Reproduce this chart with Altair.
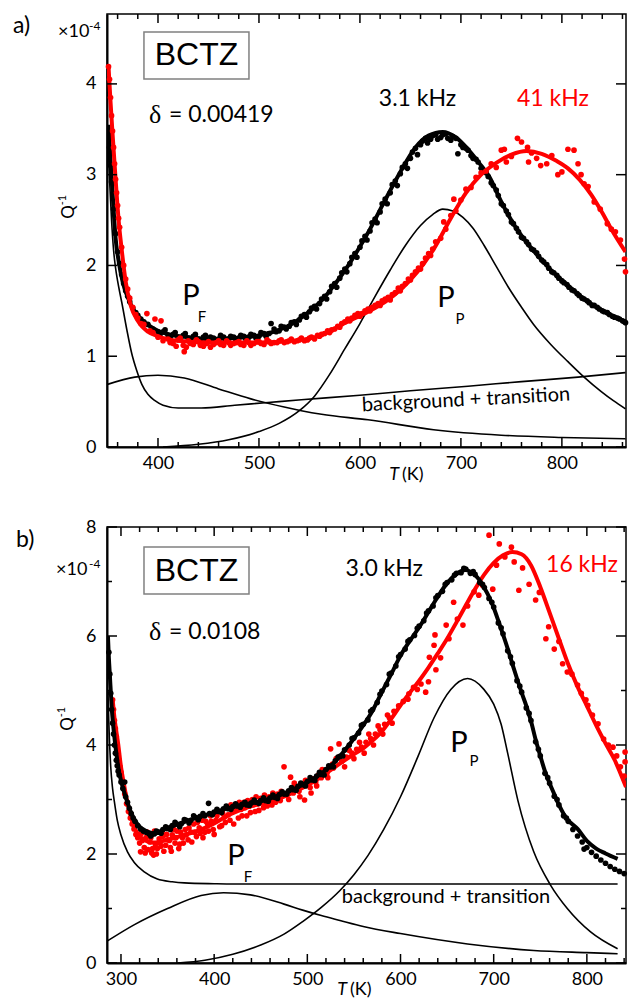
import altair as alt
import pandas as pd

FONT = "Lato"
W = 519
HA = 433
HB = 436

# ---------------- panel a) ----------------
A_XDOM = [349.5, 863.5]
A_YDOM = [0, 4.77]
A_XMAJ = [400, 500, 600, 700, 800]
A_XMIN = [360, 380, 420, 440, 460, 480, 520, 540, 560, 580, 620, 640, 660, 680,
          720, 740, 760, 780, 820, 840, 860]
A_YMAJ = [0, 1, 2, 3, 4]

A_BLACK_PTS = [(352, 3.30), (353, 3.10), (354, 2.92), (356, 2.62), (358, 2.35), (360, 2.15),
               (362, 2.02), (364, 1.90), (366, 1.80), (368, 1.72), (370, 1.66), (372, 1.60),
               (375, 1.53), (378, 1.48), (380, 1.45), (383, 1.41), (386, 1.38), (390, 1.35),
               (395, 1.30), (400, 1.27), (405, 1.27), (410, 1.23), (415, 1.24), (420, 1.21),
               (425, 1.23), (430, 1.20), (435, 1.22), (440, 1.19), (445, 1.21), (450, 1.18),
               (455, 1.20), (460, 1.19), (465, 1.21), (470, 1.19), (475, 1.21), (480, 1.20),
               (485, 1.22), (490, 1.21), (495, 1.23), (500, 1.22), (505, 1.25), (510, 1.25),
               (512, 1.36), (515, 1.30), (520, 1.28), (525, 1.32), (530, 1.33), (535, 1.38),
               (540, 1.40), (545, 1.46), (550, 1.49), (555, 1.55), (560, 1.58), (565, 1.66),
               (570, 1.71), (575, 1.80), (580, 1.86), (585, 1.96), (590, 2.02), (595, 2.13),
               (600, 2.20), (605, 2.32), (610, 2.38), (615, 2.51), (620, 2.59), (625, 2.73),
               (630, 2.80), (635, 2.93), (640, 3.01), (645, 3.12), (650, 3.18), (655, 3.29),
               (660, 3.33), (665, 3.40), (670, 3.39), (675, 3.44), (680, 3.41), (685, 3.45),
               (690, 3.38), (695, 3.40), (697, 3.23), (700, 3.33), (705, 3.29), (710, 3.21),
               (715, 3.17), (720, 3.07), (725, 3.02), (730, 2.91), (735, 2.83), (740, 2.68),
               (745, 2.60), (750, 2.48), (755, 2.41), (760, 2.31), (765, 2.26), (770, 2.18),
               (775, 2.14), (780, 2.06), (785, 2.01), (790, 1.93), (795, 1.89), (800, 1.83),
               (805, 1.79), (810, 1.73), (815, 1.69), (820, 1.64), (825, 1.61), (830, 1.56),
               (835, 1.54), (840, 1.50), (845, 1.48), (850, 1.44), (855, 1.42), (860, 1.39),
               (863, 1.37)]

A_BLACK_PTS_2 = [(402, 1.24), (407, 1.29), (412, 1.21), (417, 1.26), (422, 1.19), (427, 1.25),
                 (432, 1.18), (437, 1.24), (442, 1.17), (447, 1.23), (452, 1.21), (457, 1.17),
                 (462, 1.23), (467, 1.18), (472, 1.22), (477, 1.18), (482, 1.23), (487, 1.19),
                 (492, 1.24), (497, 1.20), (502, 1.26), (507, 1.22), (517, 1.27), (522, 1.33),
                 (527, 1.30), (532, 1.37), (537, 1.35), (542, 1.44), (547, 1.43), (552, 1.53),
                 (557, 1.52), (562, 1.63), (567, 1.63), (572, 1.77), (577, 1.76), (582, 1.92),
                 (587, 1.93), (592, 2.09), (597, 2.09), (602, 2.27), (607, 2.28), (612, 2.47),
                 (617, 2.47), (622, 2.68), (627, 2.68), (632, 2.89), (637, 2.88), (642, 3.08),
                 (647, 3.07), (652, 3.25), (657, 3.22), (662, 3.37), (667, 3.35), (672, 3.43),
                 (677, 3.39), (682, 3.44), (687, 3.40), (692, 3.42), (702, 3.30), (707, 3.27),
                 (712, 3.18), (717, 3.14), (722, 3.04), (727, 2.98), (732, 2.88), (737, 2.77),
                 (742, 2.66), (747, 2.56), (752, 2.46), (757, 2.37), (762, 2.30), (767, 2.23),
                 (772, 2.17), (777, 2.10), (782, 2.04), (787, 1.97), (792, 1.92), (797, 1.86),
                 (802, 1.81), (807, 1.76), (812, 1.72), (817, 1.67), (822, 1.63), (827, 1.59),
                 (832, 1.56), (837, 1.52), (842, 1.49), (847, 1.46), (852, 1.43), (857, 1.41),
                 (862, 1.38)]

A_BLACK_FIT = [(351, 3.55), (353, 3.15), (355, 2.80), (358, 2.30), (361, 2.05), (365, 1.82),
               (370, 1.65), (377, 1.49), (384, 1.40), (392, 1.33), (400, 1.28), (415, 1.23),
               (430, 1.21), (450, 1.19), (475, 1.20), (500, 1.23), (520, 1.29), (535, 1.37),
               (545, 1.45), (555, 1.54), (565, 1.65), (575, 1.79), (586, 1.96), (598, 2.17),
               (610, 2.40), (624, 2.70), (640, 3.03), (655, 3.30), (668, 3.43), (682, 3.47),
               (695, 3.41), (707, 3.28), (718, 3.13), (728, 2.98), (740, 2.70), (752, 2.46),
               (764, 2.27), (776, 2.11), (790, 1.94), (806, 1.78), (822, 1.63), (839, 1.51),
               (863, 1.38)]

A_RED_PTS = [(351, 4.19), (352, 4.05), (353, 3.85), (354, 3.65), (355, 3.48), (356, 3.30),
             (357, 3.12), (358, 2.95), (359, 2.80), (360, 2.66), (361, 2.52), (362, 2.42),
             (364, 2.20), (366, 2.00), (368, 1.85), (370, 1.74), (372, 1.64), (375, 1.54),
             (378, 1.46), (380, 1.42), (383, 1.36), (386, 1.35), (389, 1.47), (392, 1.28),
             (395, 1.26), (397, 1.41), (400, 1.21), (403, 1.39), (405, 1.17), (410, 1.19),
             (415, 1.14), (420, 1.18), (425, 1.12), (426, 1.05), (430, 1.17), (435, 1.13),
             (440, 1.16), (445, 1.11), (450, 1.16), (455, 1.13), (460, 1.17), (465, 1.12),
             (470, 1.15), (475, 1.14), (480, 1.16), (485, 1.12), (490, 1.15), (495, 1.14),
             (500, 1.16), (505, 1.13), (510, 1.16), (515, 1.15), (520, 1.17), (525, 1.15),
             (530, 1.17), (535, 1.16), (540, 1.18), (545, 1.17), (550, 1.20), (555, 1.19),
             (560, 1.22), (565, 1.25), (570, 1.26), (575, 1.30), (580, 1.32), (585, 1.38),
             (590, 1.39), (595, 1.45), (600, 1.44), (605, 1.50), (610, 1.50), (615, 1.56),
             (620, 1.56), (625, 1.63), (630, 1.62), (635, 1.70), (640, 1.72), (645, 1.80),
             (650, 1.84), (655, 1.93), (660, 1.96), (665, 2.08), (670, 2.11), (675, 2.26),
             (680, 2.30), (683, 2.48), (685, 2.40), (690, 2.55), (693, 2.73), (695, 2.60),
             (700, 2.72), (705, 2.84), (710, 2.86), (715, 2.97), (720, 3.02), (725, 3.04),
             (730, 3.12), (735, 3.08), (740, 3.27), (743, 3.28), (745, 3.14), (750, 3.20),
             (756, 3.40), (760, 3.36), (766, 3.30), (767, 3.14), (770, 3.24), (775, 3.18),
             (779, 3.10), (785, 3.12), (790, 3.21), (796, 3.00), (800, 3.03), (806, 3.28),
             (812, 3.27), (816, 3.12), (819, 3.00), (822, 2.90), (826, 2.87), (832, 2.70),
             (838, 2.62), (845, 2.46), (849, 2.40), (853, 2.37), (858, 2.28), (862, 2.07),
             (863, 1.93)]

A_RED_PTS_2 = [(412, 1.15), (418, 1.11), (422, 1.20), (428, 1.10), (432, 1.14), (438, 1.18),
               (442, 1.12), (448, 1.14), (452, 1.10), (458, 1.15), (462, 1.13), (468, 1.17),
               (472, 1.12), (478, 1.15), (482, 1.13), (488, 1.17), (492, 1.12), (498, 1.16),
               (502, 1.14), (508, 1.18), (512, 1.14), (518, 1.15), (522, 1.18), (528, 1.16),
               (532, 1.19), (538, 1.17), (542, 1.20), (548, 1.18), (552, 1.21), (558, 1.23),
               (562, 1.24), (568, 1.28), (572, 1.29), (578, 1.33), (582, 1.36), (588, 1.41),
               (592, 1.42), (598, 1.47), (602, 1.47), (608, 1.52), (612, 1.54), (618, 1.58),
               (622, 1.61), (628, 1.65), (632, 1.68), (638, 1.75), (642, 1.77), (648, 1.85),
               (652, 1.89), (658, 1.97), (662, 2.02), (668, 2.13), (672, 2.18)]

A_RED_FIT = [(351, 4.19), (353, 3.80), (355, 3.45), (358, 2.95), (361, 2.50), (364, 2.18),
             (368, 1.82), (373, 1.56), (380, 1.39), (390, 1.27), (400, 1.22), (420, 1.17),
             (450, 1.15), (500, 1.15), (542, 1.18), (570, 1.27), (584, 1.36), (608, 1.49),
             (625, 1.60), (641, 1.74), (657, 1.93), (673, 2.18), (690, 2.52), (705, 2.80),
             (720, 3.00), (735, 3.13), (750, 3.22), (765, 3.26), (780, 3.23), (795, 3.15),
             (806, 3.07), (818, 2.94), (829, 2.78), (840, 2.58), (849, 2.40), (863, 2.15)]

A_BG = [(350, 3.50), (352, 2.95), (354, 2.50), (356, 2.17), (358, 1.97), (360, 1.83),
        (362, 1.71), (364, 1.60), (369, 1.30), (374, 1.03), (379, 0.84), (384, 0.69),
        (390, 0.58), (397, 0.51), (405, 0.46), (420, 0.43), (443, 0.43), (476, 0.46),
        (509, 0.49), (542, 0.52), (600, 0.57), (650, 0.62), (707, 0.67), (760, 0.72),
        (816, 0.77), (863, 0.82)]
A_PF = [(350, 0.69), (377, 0.77), (400, 0.79), (426, 0.76), (460, 0.64), (492, 0.53),
        (525, 0.44), (542, 0.40), (562, 0.36), (608, 0.30), (673, 0.19), (740, 0.13),
        (800, 0.105), (863, 0.09)]
A_PP = [(405, 0.0), (440, 0.03), (470, 0.08), (500, 0.17), (520, 0.26), (540, 0.40),
        (555, 0.56), (570, 0.80), (585, 1.08), (600, 1.36), (615, 1.66), (630, 1.95),
        (645, 2.22), (660, 2.44), (672, 2.56), (682, 2.62), (692, 2.60), (702, 2.53),
        (712, 2.41), (723, 2.22), (735, 1.99), (747, 1.76), (760, 1.54), (772, 1.35),
        (789, 1.13), (806, 0.94), (822, 0.77), (839, 0.61), (851, 0.51), (863, 0.42)]

# ---------------- panel b) ----------------
B_XDOM = [285, 842]
B_YDOM = [0, 8]
B_XMAJ = [300, 400, 500, 600, 700, 800]
B_XMIN = [320, 340, 360, 380, 420, 440, 460, 480, 520, 540, 560, 580, 620, 640, 660,
          680, 720, 740, 760, 780, 820, 840]
B_YMAJ = [0, 2, 4, 6, 8]
B_YMIN = [1, 3, 5, 7]

B_BLACK_PTS = [(287, 5.70), (288, 5.30), (289, 4.95), (290, 4.65), (291, 4.40), (292, 4.20),
               (293, 4.00), (294, 3.85), (295, 3.72), (296, 3.62), (297, 3.52), (298, 3.45),
               (300, 3.32), (302, 3.20), (304, 3.32), (305, 3.05), (307, 2.95), (309, 2.84),
               (311, 2.74), (313, 2.66), (315, 2.60), (318, 2.52), (321, 2.46), (324, 2.42),
               (327, 2.40), (330, 2.37), (333, 2.36), (336, 2.37), (340, 2.40), (345, 2.45),
               (350, 2.47), (355, 2.52), (360, 2.55), (365, 2.56), (370, 2.62), (375, 2.62),
               (380, 2.67), (385, 2.69), (390, 2.70), (394, 2.93), (395, 2.74), (400, 2.77),
               (405, 2.78), (410, 2.83), (415, 2.83), (420, 2.87), (425, 2.88), (430, 2.91),
               (435, 2.90), (440, 2.94), (445, 2.95), (450, 2.98), (455, 2.98), (460, 3.03),
               (465, 3.04), (470, 3.09), (475, 3.10), (480, 3.16), (485, 3.18), (490, 3.24),
               (495, 3.27), (500, 3.33), (505, 3.36), (510, 3.43), (515, 3.46), (520, 3.55),
               (525, 3.60), (530, 3.71), (535, 3.79), (540, 3.91), (545, 4.00), (550, 4.13),
               (555, 4.22), (560, 4.38), (565, 4.46), (570, 4.65), (575, 4.78), (580, 4.99),
               (585, 5.11), (590, 5.32), (595, 5.45), (600, 5.66), (605, 5.76), (610, 5.93),
               (615, 6.01), (620, 6.18), (625, 6.28), (630, 6.46), (635, 6.55), (640, 6.74),
               (645, 6.82), (650, 6.98), (655, 7.03), (660, 7.15), (665, 7.16), (670, 7.23),
               (675, 7.15), (680, 7.13), (685, 6.98), (690, 6.89), (695, 6.69), (700, 6.53),
               (705, 6.24), (710, 6.04), (715, 5.73), (720, 5.50), (725, 5.18), (730, 4.97),
               (735, 4.68), (740, 4.45), (745, 4.06), (750, 3.80), (755, 3.48), (760, 3.30),
               (765, 3.06), (770, 2.90), (775, 2.70), (780, 2.60), (785, 2.45), (790, 2.33),
               (795, 2.22), (797, 2.09), (800, 2.12), (805, 2.03), (810, 1.96), (815, 1.89),
               (820, 1.83), (825, 1.77), (830, 1.72), (835, 1.68), (840, 1.64)]

B_BLACK_PTS_2 = [(332, 2.33), (338, 2.42), (343, 2.38), (348, 2.50), (353, 2.45), (358, 2.58),
                 (363, 2.50), (368, 2.63), (373, 2.57), (378, 2.70), (383, 2.63), (388, 2.74),
                 (398, 2.72), (403, 2.82), (408, 2.76), (413, 2.88), (418, 2.82), (423, 2.92),
                 (428, 2.86), (433, 2.95), (438, 2.89), (443, 2.99), (448, 2.93), (453, 3.03),
                 (458, 2.97), (463, 3.08), (468, 3.02), (473, 3.14), (478, 3.10), (483, 3.22),
                 (488, 3.17), (493, 3.30), (498, 3.25), (503, 3.40), (508, 3.35), (513, 3.50),
                 (518, 3.45), (523, 3.62), (528, 3.60), (533, 3.78), (538, 3.80), (548, 4.12),
                 (558, 4.36), (568, 4.62), (578, 4.93), (588, 5.30), (598, 5.62), (608, 5.90),
                 (618, 6.14), (628, 6.42), (638, 6.70), (648, 6.95), (658, 7.12), (668, 7.24),
                 (678, 7.18), (688, 6.95), (698, 6.62), (708, 6.15), (718, 5.62), (728, 5.08),
                 (738, 4.58), (748, 3.92), (758, 3.40), (768, 3.00), (778, 2.66)]

B_BLACK_FIT = [(286, 6.00), (287, 5.60), (288, 5.30), (290, 4.70), (292, 4.30), (295, 3.85),
               (298, 3.50), (300, 3.35), (305, 3.05), (310, 2.80), (315, 2.62), (320, 2.50),
               (325, 2.44), (330, 2.40), (335, 2.38), (340, 2.40), (350, 2.48), (360, 2.54),
               (370, 2.60), (380, 2.66), (390, 2.71), (400, 2.76), (410, 2.82), (420, 2.86),
               (430, 2.90), (440, 2.93), (450, 2.97), (460, 3.02), (470, 3.08), (480, 3.15),
               (490, 3.23), (500, 3.32), (510, 3.42), (520, 3.54), (530, 3.70), (540, 3.90),
               (550, 4.12), (560, 4.36), (570, 4.63), (580, 4.97), (590, 5.30), (600, 5.64),
               (610, 5.91), (620, 6.16), (630, 6.44), (640, 6.72), (650, 6.97), (660, 7.14),
               (665, 7.19), (670, 7.21), (675, 7.18), (680, 7.12), (685, 7.02), (690, 6.88),
               (695, 6.72), (700, 6.52), (705, 6.28), (710, 6.03), (715, 5.77), (720, 5.49),
               (725, 5.22), (730, 4.96), (735, 4.72), (740, 4.44), (745, 4.10), (750, 3.80),
               (755, 3.52), (760, 3.30), (765, 3.10), (770, 2.90), (775, 2.74), (780, 2.62),
               (790, 2.46), (800, 2.24), (810, 2.10), (820, 2.01), (833, 1.91)]

B_RED_PTS = [(291, 4.83), (292, 4.65), (293, 4.45), (294, 4.30), (295, 4.15), (296, 4.00),
             (297, 3.85), (298, 3.72), (299, 3.60), (300, 3.50), (302, 3.30), (304, 3.10),
             (306, 2.92), (308, 2.78), (310, 2.66), (312, 2.55), (314, 2.46), (316, 2.36),
             (318, 2.30), (320, 2.20), (321, 2.04), (323, 2.25), (325, 2.12), (327, 2.30),
             (329, 2.08), (331, 2.22), (333, 2.02), (335, 1.98), (337, 2.18), (339, 2.10),
             (341, 2.28), (343, 2.14), (345, 2.32), (348, 2.16), (350, 2.26), (353, 2.12),
             (355, 2.35), (358, 2.20), (360, 2.42), (363, 2.18), (366, 2.30), (369, 2.45),
             (372, 2.26), (375, 2.40), (378, 2.55), (381, 2.32), (384, 2.48), (387, 2.62),
             (390, 2.40), (393, 2.55), (396, 2.70), (399, 2.45), (402, 2.62), (405, 2.78),
             (408, 2.52), (411, 2.68), (414, 2.85), (417, 2.62), (420, 2.78), (423, 2.90),
             (426, 2.66), (429, 2.82), (432, 2.95), (435, 2.70), (438, 2.88), (441, 3.00),
             (444, 2.78), (447, 2.92), (450, 3.02), (453, 2.85), (456, 2.96), (459, 3.05),
             (462, 2.90), (465, 3.02), (468, 3.10), (471, 2.98), (475, 3.60), (478, 3.08),
             (482, 3.41), (485, 3.12), (488, 3.22), (491, 3.15), (494, 3.28), (497, 2.99),
             (500, 3.30), (503, 3.22), (506, 3.38), (509, 3.32), (512, 3.45), (515, 3.40),
             (518, 3.52), (521, 3.48), (525, 3.93), (528, 3.58), (534, 4.02), (537, 3.70),
             (542, 3.78), (548, 3.85), (553, 3.92), (558, 3.96), (563, 4.05), (568, 4.12),
             (573, 4.20), (578, 4.28), (583, 4.38), (588, 4.50), (593, 4.62), (598, 4.72),
             (603, 4.80), (608, 4.84), (609, 4.94), (614, 5.06), (618, 5.02), (622, 5.12),
             (627, 4.97), (630, 5.16), (631, 5.61), (636, 5.83), (638, 5.38), (637, 6.02),
             (643, 5.60), (649, 6.20), (652, 5.95), (657, 6.62), (661, 6.31), (667, 6.20),
             (672, 6.55), (679, 6.81), (684, 6.75), (688, 6.93), (695, 7.85), (699, 6.86),
             (703, 7.30), (706, 7.69), (712, 7.45), (719, 7.63), (722, 7.36), (727, 6.84),
             (731, 7.25), (738, 6.95), (745, 6.66), (749, 6.80), (756, 5.95), (759, 6.17),
             (765, 5.76), (770, 5.90), (774, 5.49), (779, 5.34), (784, 5.30), (790, 5.10),
             (794, 4.95), (799, 4.83), (801, 4.73), (806, 4.55), (812, 4.39), (818, 4.11),
             (823, 4.00), (828, 3.96), (832, 3.80), (836, 3.60), (840, 3.43), (841, 3.87),
             (841, 3.69)]

B_RED_PTS_2 = [(322, 2.38), (326, 2.02), (328, 2.40), (332, 2.30), (334, 2.10), (336, 2.42),
               (338, 2.00), (342, 2.20), (344, 2.40), (346, 2.05), (349, 2.36), (352, 2.25),
               (354, 2.05), (357, 2.45), (359, 2.30), (362, 2.10), (364, 2.40), (367, 2.20),
               (370, 2.35), (373, 2.48), (376, 2.22), (379, 2.40), (382, 2.58), (385, 2.38),
               (388, 2.30), (391, 2.60), (394, 2.42), (397, 2.60), (400, 2.36), (403, 2.70),
               (406, 2.50), (409, 2.75), (412, 2.58), (415, 2.72), (418, 2.90), (421, 2.55),
               (424, 2.82), (427, 2.95), (430, 2.70), (433, 2.85), (436, 2.98), (439, 2.76),
               (442, 2.90), (445, 3.05), (448, 2.80), (451, 2.95), (454, 3.08), (457, 2.88),
               (460, 3.00), (463, 3.12), (466, 2.95), (469, 3.05), (472, 3.15), (480, 3.00),
               (486, 3.30), (492, 3.05), (498, 3.35), (504, 3.12), (510, 3.25), (516, 3.55),
               (522, 3.40), (527, 3.65), (531, 3.75), (540, 3.60), (545, 3.90), (550, 3.75),
               (556, 4.05), (561, 3.85), (566, 4.20), (571, 4.00), (576, 4.35), (581, 4.20),
               (586, 4.55), (591, 4.40)]

B_RED_FIT = [(291, 4.85), (293, 4.50), (295, 4.25), (297, 4.02), (300, 3.60), (303, 3.30),
             (306, 3.02), (310, 2.72), (314, 2.50), (320, 2.33), (325, 2.26), (330, 2.22),
             (335, 2.21), (340, 2.22), (350, 2.26), (360, 2.31), (370, 2.36), (380, 2.41),
             (390, 2.48), (400, 2.56), (410, 2.66), (420, 2.75), (430, 2.82), (440, 2.88),
             (450, 2.92), (460, 2.96), (470, 3.02), (480, 3.09), (490, 3.17), (500, 3.26),
             (510, 3.36), (520, 3.48), (530, 3.60), (540, 3.72), (550, 3.83), (560, 3.94),
             (570, 4.08), (580, 4.25), (590, 4.48), (600, 4.73), (610, 4.96), (620, 5.18),
             (630, 5.42), (640, 5.68), (650, 5.95), (660, 6.25), (670, 6.56), (680, 6.86),
             (690, 7.13), (700, 7.34), (710, 7.48), (720, 7.54), (730, 7.50), (740, 7.30),
             (750, 6.90), (760, 6.43), (770, 5.95), (780, 5.48), (790, 5.07), (800, 4.72),
             (810, 4.36), (820, 4.03), (830, 3.72), (836, 3.48), (842, 3.23)]

B_BG = [(286, 5.00), (287, 4.40), (289, 3.60), (291, 3.20), (293, 2.95), (296, 2.62),
        (300, 2.35), (307, 2.04), (314, 1.85), (325, 1.67), (339, 1.54), (355, 1.49),
        (368, 1.47), (400, 1.455), (421, 1.45), (833, 1.45)]
B_PF = [(285, 0.40), (314, 0.70), (350, 1.00), (386, 1.24), (410, 1.29), (439, 1.25),
        (475, 1.08), (495, 0.97), (515, 0.87), (535, 0.78), (560, 0.67), (600, 0.54),
        (672, 0.35), (743, 0.23), (800, 0.19), (833, 0.17)]
B_PP = [(361, 0.0), (390, 0.05), (420, 0.16), (450, 0.33), (475, 0.53), (495, 0.76),
        (515, 1.02), (535, 1.33), (550, 1.62), (565, 1.97), (582, 2.45), (600, 3.05),
        (619, 3.80), (636, 4.50), (654, 5.02), (672, 5.22), (689, 5.03), (700, 4.75),
        (708, 4.38), (715, 3.85), (726, 2.98), (743, 2.04), (761, 1.43), (779, 1.00),
        (804, 0.57), (833, 0.26)]


def df(pairs):
    return pd.DataFrame(pairs, columns=["T", "Q"])


ONE = pd.DataFrame({"k": [0]})


def make_panel(xdom, ydom, H, xmaj, xmin, ymaj, ymin, comps, bpts, bfit, rpts, rfit,
               black_on_top, texts):
    xsc = alt.Scale(domain=xdom, nice=False, zero=False)
    ysc = alt.Scale(domain=ydom, nice=False, zero=False)
    axis_common = dict(tickSize=0, ticks=False, labelFontSize=18, labelFont=FONT,
                       labelColor="black", domainColor="black", domainWidth=2,
                       grid=False, title=None, labelFlush=False, labelOverlap=False)
    AX = alt.Axis(values=xmaj, labelPadding=7, **axis_common)
    AY = alt.Axis(values=ymaj, labelPadding=11, **axis_common)
    X = alt.X("T:Q", scale=xsc, axis=AX)
    Y = alt.Y("Q:Q", scale=ysc, axis=AY)

    def XD(v):
        return alt.XDatum(v, type="quantitative", scale=xsc, axis=AX)

    def YD(v):
        return alt.YDatum(v, type="quantitative", scale=ysc, axis=AY)

    comp_rows = []
    for name, pts in comps:
        for t, q in pts:
            comp_rows.append({"T": t, "Q": q, "c": name})
    thin = alt.Chart(pd.DataFrame(comp_rows)).mark_line(
        color="black", strokeWidth=1.6, interpolate="monotone", clip=True
    ).encode(x=X, y=Y, detail="c:N")

    def dots(pts, color):
        return alt.Chart(df(pts)).mark_circle(size=32, opacity=1, color=color).encode(x=X, y=Y)

    def fit(pts, color):
        return alt.Chart(df(pts)).mark_line(
            color=color, strokeWidth=4, interpolate="monotone", clip=True
        ).encode(x=X, y=Y)

    layers = [thin]
    if black_on_top:
        layers += [dots(rpts, "#ff0000"), fit(rfit, "#ff0000"),
                   dots(bpts, "black"), fit(bfit, "black")]
    else:
        layers += [dots(bpts, "black"), fit(bfit, "black"),
                   dots(rpts, "#ff0000"), fit(rfit, "#ff0000")]

    # inward ticks on all four sides
    def tick_x(vals, length):
        d = pd.DataFrame({"T": vals})
        b = alt.Chart(d).mark_rule(color="black", strokeWidth=1.5).encode(
            x=X, y=alt.value(H), y2=alt.value(H - length))
        t = alt.Chart(d).mark_rule(color="black", strokeWidth=1.5).encode(
            x=X, y=alt.value(0), y2=alt.value(length))
        return [b, t]

    def tick_y(vals, length):
        d = pd.DataFrame({"Q": vals})
        l = alt.Chart(d).mark_rule(color="black", strokeWidth=1.5).encode(
            y=Y, x=alt.value(0), x2=alt.value(length))
        r = alt.Chart(d).mark_rule(color="black", strokeWidth=1.5).encode(
            y=Y, x=alt.value(W), x2=alt.value(W - length))
        return [l, r]

    layers += tick_x(xmaj, 9) + tick_x(xmin, 5) + tick_y(ymaj, 10)
    if ymin:
        layers += tick_y(ymin, 5)

    for t in texts:
        kind = t["kind"]
        if kind == "box":
            layers.append(alt.Chart(ONE).mark_rect(
                fill="white", stroke="#808080", strokeWidth=1.5
            ).encode(x=XD(t["x"]), x2=alt.X2Datum(t["x2"]),
                     y=YD(t["y"]), y2=alt.Y2Datum(t["y2"])))
            continue
        mk = dict(text=t["s"], fontSize=t["size"], color=t.get("color", "black"),
                  font=t.get("font", FONT), align=t.get("align", "center"),
                  baseline=t.get("baseline", "middle"))
        if t.get("angle"):
            mk["angle"] = t["angle"]
        if t.get("style"):
            mk["fontStyle"] = t["style"]
        ch = alt.Chart(ONE).mark_text(**mk)
        if kind == "px":
            ch = ch.encode(x=alt.value(t["x"]), y=alt.value(t["y"]))
        else:
            ch = ch.encode(x=XD(t["x"]), y=YD(t["y"]))
        layers.append(ch)

    return alt.layer(*layers).properties(width=W, height=H)


A_TEXTS = [
    dict(kind="box", x=386.1, x2=490.1, y=4.573, y2=4.055),
    dict(kind="d", x=438.1, y=4.314, s="BCTZ", size=32, font="Liberation Sans"),
    dict(kind="d", x=391.1, y=3.658, s="δ", size=26, font="Liberation Serif", align="left"),
    dict(kind="d", x=410.9, y=3.658, s="= 0.00419", size=23, align="left"),
    dict(kind="d", x=657.0, y=3.83, s="3.1 kHz", size=23),
    dict(kind="d", x=791.2, y=3.83, s="41 kHz", size=23, color="#ff0000"),
    dict(kind="d", x=432.7, y=1.664, s="P", size=29),
    dict(kind="d", x=443.6, y=1.432, s="F", size=15),
    dict(kind="d", x=685.2, y=1.642, s="P", size=29),
    dict(kind="d", x=699.1, y=1.41, s="P", size=15),
    dict(kind="d", x=705.0, y=0.518, s="background + transition", size=20, angle=357),
    dict(kind="px", x=-94, y=12, s="a)", size=23, align="left"),
    dict(kind="px", x=-49, y=23, s="×10", size=18, align="left", baseline="alphabetic"),
    dict(kind="px", x=-18, y=16, s="-4", size=12, align="left", baseline="alphabetic"),
    dict(kind="px", x=-38, y=198, s="Q", size=17, angle=270),
    dict(kind="px", x=-44, y=186, s="-1", size=11, angle=270),
    dict(kind="px", x=292, y=461, s="T", size=18, style="italic", align="right"),
    dict(kind="px", x=295, y=461, s="(K)", size=18, align="left"),
]

B_TEXTS = [
    dict(kind="box", x=324.7, x2=437.4, y=7.633, y2=6.771),
    dict(kind="d", x=381.1, y=7.20, s="BCTZ", size=32, font="Liberation Sans"),
    dict(kind="d", x=330.1, y=6.07, s="δ", size=26, font="Liberation Serif", align="left"),
    dict(kind="d", x=351.5, y=6.07, s="= 0.0108", size=23, align="left"),
    dict(kind="d", x=582.6, y=7.23, s="3.0 kHz", size=23),
    dict(kind="d", x=794.8, y=7.31, s="16 kHz", size=23, color="#ff0000"),
    dict(kind="d", x=423.4, y=1.963, s="P", size=29),
    dict(kind="d", x=436.3, y=1.578, s="F", size=15),
    dict(kind="d", x=662.8, y=4.037, s="P", size=29),
    dict(kind="d", x=678.9, y=3.706, s="P", size=15),
    dict(kind="d", x=648.8, y=1.211, s="background + transition", size=20),
    dict(kind="px", x=-91, y=13, s="b)", size=23, align="left"),
    dict(kind="px", x=-51, y=48, s="×10", size=18, align="left", baseline="alphabetic"),
    dict(kind="px", x=-18, y=41, s="-4", size=12, align="left", baseline="alphabetic"),
    dict(kind="px", x=-39, y=197, s="Q", size=17, angle=270),
    dict(kind="px", x=-45, y=185, s="-1", size=11, angle=270),
    dict(kind="px", x=240, y=463, s="T", size=18, style="italic", align="right"),
    dict(kind="px", x=243, y=463, s="(K)", size=18, align="left"),
]

panel_a = make_panel(A_XDOM, A_YDOM, HA, A_XMAJ, A_XMIN, A_YMAJ, [],
                     [("bg", A_BG), ("pf", A_PF), ("pp", A_PP)],
                     A_BLACK_PTS + A_BLACK_PTS_2, A_BLACK_FIT,
                     A_RED_PTS + A_RED_PTS_2, A_RED_FIT, False, A_TEXTS)
panel_b = make_panel(B_XDOM, B_YDOM, HB, B_XMAJ, B_XMIN, B_YMAJ, B_YMIN,
                     [("bg", B_BG), ("pf", B_PF), ("pp", B_PP)],
                     B_BLACK_PTS + B_BLACK_PTS_2, B_BLACK_FIT,
                     B_RED_PTS + B_RED_PTS_2, B_RED_FIT, True, B_TEXTS)

chart = alt.vconcat(panel_a, panel_b, spacing=80, bounds="flush").properties(
    padding={"left": 12, "top": 12, "right": 0, "bottom": 0},
    background="white",
).configure_view(stroke="black", strokeWidth=1.5)

chart.save("out.html", embed_options={"renderer": "svg", "actions": False})
